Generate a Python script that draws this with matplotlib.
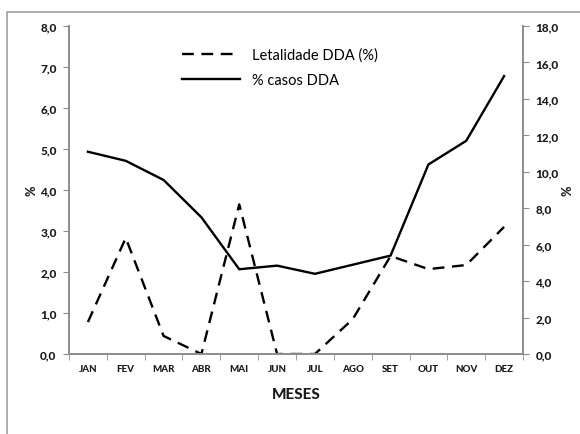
import matplotlib.pyplot as plt
from matplotlib.patches import Rectangle
from matplotlib.ticker import FixedLocator, FuncFormatter

meses = ["JAN", "FEV", "MAR", "ABR", "MAI", "JUN", "JUL", "AGO", "SET", "OUT", "NOV", "DEZ"]
letalidade = [0.78, 2.83, 0.44, 0.0, 3.65, 0.0, 0.0, 0.85, 2.39, 2.07, 2.17, 3.1]
casos = [11.1, 10.6, 9.55, 7.5, 4.65, 4.85, 4.4, 4.9, 5.4, 10.4, 11.7, 15.25]

plt.rcParams['font.family'] = ['Lato', 'DejaVu Sans']
spine_col = "#8c8c8c"
txt_col = "#1a1a1a"

fig = plt.figure(figsize=(5.8, 4.35), dpi=100)
fig.patches.append(Rectangle((7 / 580, -0.1), 1.2, 1 - 13 / 435 + 0.1, transform=fig.transFigure,
                             fill=False, edgecolor="#a0a0a0", linewidth=1.2))

ax = fig.add_axes([69 / 580, 80 / 435, 454 / 580, 328 / 435])
ax2 = ax.twinx()

x = list(range(len(meses)))
l1, = ax.plot(x, letalidade, color="black", linewidth=1.7, dashes=(5, 3.2), label="Letalidade DDA (%)")
l2, = ax2.plot(x, casos, color="black", linewidth=1.7, label="% casos DDA")

ax.set_xlim(-0.5, 11.5)
ax.set_ylim(0, 8)
ax2.set_ylim(0, 18)
ax.set_yticks([i for i in range(0, 9)])
ax2.set_yticks([i for i in range(0, 19, 2)])
fmt = FuncFormatter(lambda v, p: ("%.1f" % v).replace(".", ","))
ax.yaxis.set_major_formatter(fmt)
ax2.yaxis.set_major_formatter(fmt)

ax.set_xticks(x)
ax.set_xticklabels(meses, fontweight="black")
ax.xaxis.set_minor_locator(FixedLocator([i - 0.5 for i in range(13)]))
ax.tick_params(axis="x", which="major", length=0, pad=7, labelsize=7, colors=txt_col)
ax.tick_params(axis="x", which="minor", length=4, direction="out", color=spine_col)
ax.tick_params(axis="y", length=4, direction="out", color=spine_col, labelsize=8.5, colors=txt_col, pad=5)
ax2.tick_params(axis="y", length=4, direction="out", color=spine_col, labelsize=8.5, colors=txt_col, pad=5)
for a in (ax, ax2):
    for lab in a.get_yticklabels():
        lab.set_fontweight("black")
    a.spines["top"].set_visible(False)
    for s in ("left", "right", "bottom"):
        a.spines[s].set_color(spine_col)
        a.spines[s].set_linewidth(1.2)

ax.set_xlabel("MESES", fontsize=11, fontweight="black", color=txt_col, labelpad=10)
ax.set_ylabel("%", fontsize=9, fontweight="black", color=txt_col, labelpad=2)
ax2.set_ylabel("%", fontsize=9, fontweight="black", color=txt_col, labelpad=2)

ax.legend([l1, l2], [l1.get_label(), l2.get_label()], loc="upper left", bbox_to_anchor=(0.22, 0.975),
          frameon=False, prop={"size": 10.5}, handlelength=4.0, labelspacing=0.75,
          handletextpad=0.8)

plt.savefig("out.png", dpi=100)
